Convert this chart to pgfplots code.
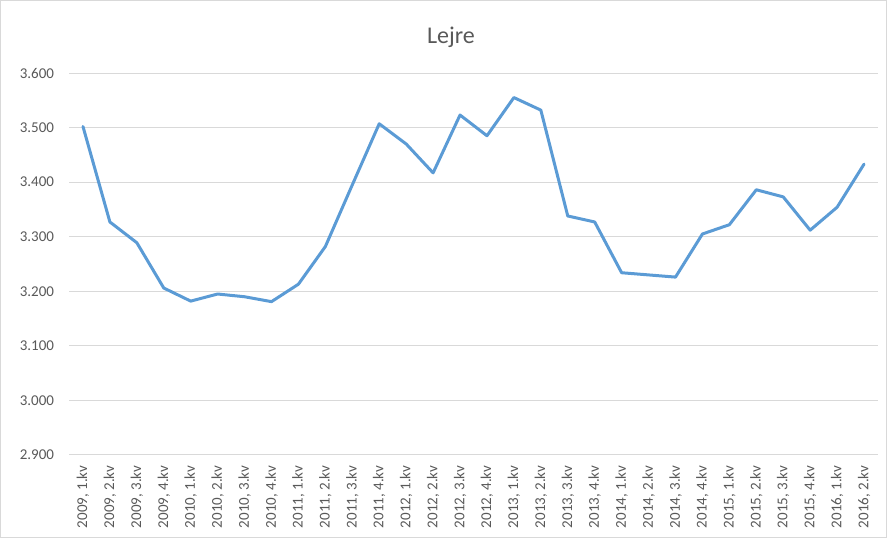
\documentclass[border=0pt]{standalone}
\usepackage{pgfplots}
\pgfplotsset{compat=1.18}
\usepackage{fontspec}
\setmainfont{Carlito}
\definecolor{lineblue}{HTML}{5B9BD5}
\definecolor{gridgray}{HTML}{D9D9D9}
\definecolor{textgray}{HTML}{595959}

\pgfplotstableread{
x y
0 3502
1 3327
2 3289
3 3206
4 3182
5 3195
6 3190
7 3181
8 3213
9 3282
10 3395
11 3507
12 3470
13 3417
14 3523
15 3485
16 3555
17 3532
18 3338
19 3327
20 3234
21 3230
22 3226
23 3305
24 3322
25 3386
26 3373
27 3312
28 3354
29 3433
}\datatable

\begin{document}
\begin{tikzpicture}
\useasboundingbox (0pt,0pt) rectangle (887pt,538pt);
\draw[gridgray, line width=1pt] (0.5pt,0.5pt) rectangle (886.5pt,537.5pt);
\node[textgray, font=\fontsize{24}{28}\selectfont, anchor=base] at (451pt,494pt) {Lejre};
\begin{axis}[
  at={(69.5pt,83pt)}, anchor=south west,
  scale only axis, width=808pt, height=382pt,
  xmin=-0.5, xmax=29.5, ymin=2900, ymax=3600,
  ytick={2900,3000,...,3600},
  xtick={0,...,29},
  xticklabels={{2009, 1.kv},{2009, 2.kv},{2009, 3.kv},{2009, 4.kv},
    {2010, 1.kv},{2010, 2.kv},{2010, 3.kv},{2010, 4.kv},
    {2011, 1.kv},{2011, 2.kv},{2011, 3.kv},{2011, 4.kv},
    {2012, 1.kv},{2012, 2.kv},{2012, 3.kv},{2012, 4.kv},
    {2013, 1.kv},{2013, 2.kv},{2013, 3.kv},{2013, 4.kv},
    {2014, 1.kv},{2014, 2.kv},{2014, 3.kv},{2014, 4.kv},
    {2015, 1.kv},{2015, 2.kv},{2015, 3.kv},{2015, 4.kv},
    {2016, 1.kv},{2016, 2.kv}},
  x tick label style={rotate=90, anchor=east, yshift=0pt, xshift=-7pt, font=\fontsize{15}{18}\selectfont, text=textgray},
  y tick label style={anchor=east, xshift=-12pt, font=\fontsize{15}{18}\selectfont, text=textgray},
  /pgf/number format/.cd, fixed, 1000 sep={.}, assume math mode=true,
  /pgfplots/.cd,
  ymajorgrids, major grid style={gridgray, line width=1pt},
  axis line style={draw=none},
  tick style={draw=none},
  clip=false,
]
\addplot[lineblue, line width=3pt, line join=round, line cap=round, mark=none] table[x=x,y=y] {\datatable};
\end{axis}
\end{tikzpicture}
\end{document}
